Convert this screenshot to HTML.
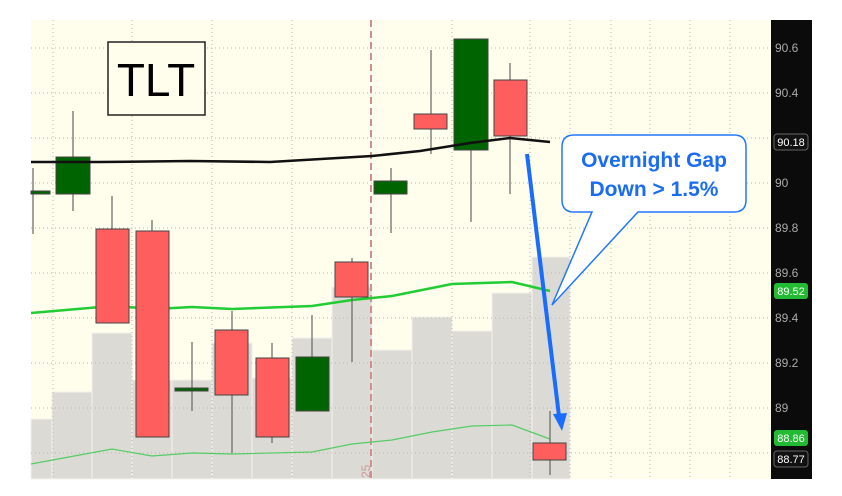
<!DOCTYPE html>
<html><head><style>body{margin:0;background:#fff}svg{display:block}</style></head><body>
<svg width="842" height="496" xmlns="http://www.w3.org/2000/svg" font-family="Liberation Sans, sans-serif">
<rect x="31" y="20" width="741" height="459" fill="#fffdec"/>
<g fill="#dcdad5" stroke="#f2f1ec" stroke-width="1">
<rect x="31" y="419" width="21" height="60"/><rect x="52" y="392" width="40" height="87"/><rect x="92" y="333" width="40" height="146"/><rect x="132" y="380" width="40" height="99"/><rect x="172" y="380" width="40" height="99"/><rect x="212" y="343" width="40" height="136"/><rect x="252" y="378" width="40" height="101"/><rect x="292" y="338" width="40" height="141"/><rect x="332" y="287" width="40" height="192"/><rect x="372" y="350" width="40" height="129"/><rect x="412" y="317" width="40" height="162"/><rect x="452" y="331" width="40" height="148"/><rect x="492" y="293" width="40" height="186"/><rect x="532" y="257" width="38" height="222"/>
</g>
<g stroke="#b8b8b0" stroke-width="1" stroke-dasharray="1,3">
<line x1="31" x2="771" y1="48" y2="48"/><line x1="31" x2="771" y1="93" y2="93"/><line x1="31" x2="771" y1="138" y2="138"/><line x1="31" x2="771" y1="183" y2="183"/><line x1="31" x2="771" y1="228" y2="228"/><line x1="31" x2="771" y1="273" y2="273"/><line x1="31" x2="771" y1="318" y2="318"/><line x1="31" x2="771" y1="363" y2="363"/><line x1="31" x2="771" y1="408" y2="408"/><line x1="31" x2="771" y1="453" y2="453"/>
<line x1="53" x2="53" y1="20" y2="479"/><line x1="132" x2="132" y1="20" y2="479"/><line x1="212" x2="212" y1="20" y2="479"/><line x1="292" x2="292" y1="20" y2="479"/><line x1="452" x2="452" y1="20" y2="479"/><line x1="530" x2="530" y1="20" y2="479"/><line x1="570" x2="570" y1="20" y2="479"/><line x1="611" x2="611" y1="20" y2="479"/><line x1="650" x2="650" y1="20" y2="479"/><line x1="690" x2="690" y1="20" y2="479"/><line x1="730" x2="730" y1="20" y2="479"/>
</g>
<line x1="371" x2="371" y1="20" y2="479" stroke="#cf8f8f" stroke-width="2" stroke-dasharray="7,4"/>
<text x="0" y="0" transform="translate(370,478) rotate(-90)" font-size="12" fill="#c99">25</text>
<polyline fill="none" stroke="#55cc66" stroke-width="1.2" points="31,464 112,449 152,456 192,453 232,454 312,452 352,444 392,440 432,432 472,426 512,425 550,439"/>
<polyline fill="none" stroke="#22cc33" stroke-width="2.5" points="31,313 112,306 155,309 192,307 232,309 312,306 352,300 392,296 452,284 512,282 550,291"/>
<g stroke="#666" stroke-width="1.2">
<line x1="33" x2="33" y1="168" y2="234"/><line x1="73" x2="73" y1="111" y2="211"/><line x1="112" x2="112" y1="196" y2="229"/><line x1="152" x2="152" y1="220" y2="231"/><line x1="192" x2="192" y1="342" y2="411"/><line x1="232" x2="232" y1="311" y2="453"/><line x1="272" x2="272" y1="343" y2="443"/><line x1="312" x2="312" y1="315" y2="411"/><line x1="352" x2="352" y1="258" y2="362"/><line x1="391" x2="391" y1="168" y2="233"/><line x1="431" x2="431" y1="50" y2="154"/><line x1="471" x2="471" y1="150" y2="222"/><line x1="510" x2="510" y1="63" y2="194"/><line x1="550" x2="550" y1="411" y2="475"/>
</g>
<g stroke="#444" stroke-width="1">
<rect x="31" y="191" width="19" height="3" fill="#006400"/>
<rect x="56" y="157" width="34" height="37" fill="#006400"/>
<rect x="96" y="229" width="33" height="94" fill="#ff5e5e"/>
<rect x="136" y="231" width="33" height="206" fill="#ff5e5e"/>
<rect x="175" y="388" width="33" height="3" fill="#006400"/>
<rect x="215" y="330" width="33" height="65" fill="#ff5e5e"/>
<rect x="256" y="358" width="33" height="79" fill="#ff5e5e"/>
<rect x="296" y="357" width="33" height="54" fill="#006400"/>
<rect x="335" y="262" width="33" height="35" fill="#ff5e5e"/>
<rect x="374" y="181" width="33" height="13" fill="#006400"/>
<rect x="414" y="114" width="33" height="15" fill="#ff5e5e"/>
<rect x="454" y="39" width="34" height="111" fill="#006400"/>
<rect x="494" y="80" width="33" height="56" fill="#ff5e5e"/>
<rect x="533" y="443" width="33" height="17" fill="#ff5e5e"/>
</g>
<polyline fill="none" stroke="#111" stroke-width="2.5" points="31,162 100,162 190,161 270,162 372,156 420,151 470,143 510,138 550,142"/>
<rect x="108" y="42" width="97" height="73" fill="#fffdec" stroke="#222" stroke-width="1.5"/>
<text x="156" y="96" font-size="46" text-anchor="middle" fill="#000">TLT</text>
<path d="M580,135 H734 Q746,135 746,147 V200 Q746,212 734,212 H638 L552,305 L592,212 H574 Q562,212 562,200 V147 Q562,135 574,135 Z" fill="#fff" stroke="#2277ff" stroke-width="1.5"/>
<text x="654" y="167" font-size="21" font-weight="bold" fill="#1a6cf0" text-anchor="middle">Overnight Gap</text>
<text x="654" y="196" font-size="21" font-weight="bold" fill="#1a6cf0" text-anchor="middle">Down &gt; 1.5%</text>
<line x1="527" y1="154" x2="559" y2="416" stroke="#1a6cff" stroke-width="4"/>
<polygon points="553,414 567,413 562,431" fill="#1a6cff"/>
<rect x="771" y="20" width="41" height="459" fill="#0b0b0b"/>
<g font-size="12" fill="#aaa">
<text x="775" y="52">90.6</text><text x="775" y="97">90.4</text><text x="775" y="187">90</text><text x="775" y="232">89.8</text><text x="775" y="277">89.6</text><text x="775" y="322">89.4</text><text x="775" y="367">89.2</text><text x="775" y="412">89</text>
</g>
<rect x="774" y="134" width="34" height="16" rx="3" fill="#111" stroke="#666"/><text x="791" y="146" font-size="11" fill="#fff" text-anchor="middle">90.18</text>
<rect x="774" y="283" width="34" height="16" rx="3" fill="#22bb33"/><text x="791" y="295" font-size="11" fill="#fff" text-anchor="middle">89.52</text>
<rect x="774" y="430" width="34" height="16" rx="3" fill="#22bb33"/><text x="791" y="442" font-size="11" fill="#fff" text-anchor="middle">88.86</text>
<rect x="774" y="451" width="34" height="16" rx="3" fill="#111" stroke="#666"/><text x="791" y="463" font-size="11" fill="#fff" text-anchor="middle">88.77</text>
</svg>
</body></html>
